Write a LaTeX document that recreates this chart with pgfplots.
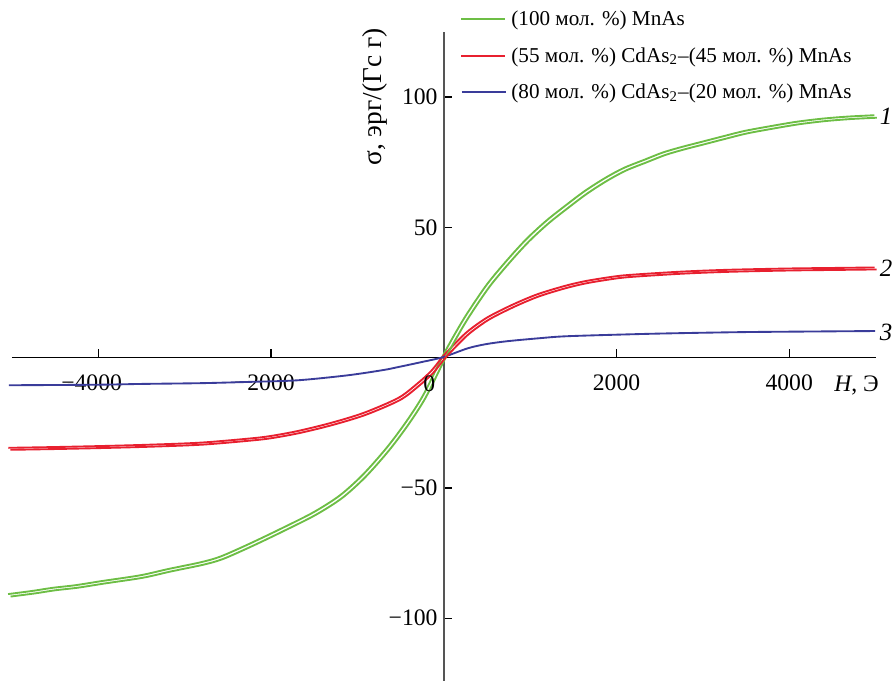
\documentclass[border=0pt]{standalone}
\usepackage{pgfplots}
\pgfplotsset{compat=1.18}
\usepackage{fontspec}
\setmainfont{Liberation Serif}
\definecolor{cgreen}{HTML}{6DBE45}
\definecolor{cred}{HTML}{E8202F}
\definecolor{cblue}{HTML}{3A3C9A}
\definecolor{axgray}{HTML}{555555}

\begin{document}
\begin{tikzpicture}
\begin{axis}[
  scale only axis, width=347.2pt, height=260.8pt,
  xmin=-5000, xmax=5000, ymin=-123.9, ymax=125,
  axis lines=middle,
  x axis line style={-, draw=black, line width=0.6pt},
  y axis line style={-, draw=axgray, line width=0.8pt},
  tick align=inside, major tick length=3.5pt,
  tick style={draw=black, line width=0.5pt},
  xtick={-4000,-2000,2000,4000},
  xticklabels={\llap{−}4000,\llap{−}2000,2000,4000},
  xticklabel style={yshift=-3.5pt},
  ytick={-100,-50,50,100},
  yticklabels={−100,−50,50,100},
  yticklabel style={xshift=1pt},
  ticklabel style={font=\fontsize{9.5}{11}\selectfont},
  clip=false,
  legend cell align=left,
  legend style={draw=none, fill=none, at={(rel axis cs:0.5185,1.04)}, anchor=north west,
    font=\fontsize{8.5}{10}\selectfont, row sep=3.1pt, inner sep=0pt},
  legend image code/.code={\draw[#1, line width=0.8pt] (0pt,0pt) -- (15pt,0pt);
    \path (0pt,0pt) -- (17.5pt,0pt);},
  every axis plot/.append style={smooth, line width=0.75pt},
]
% 1: MnAs
\addplot[cgreen, xshift=-0.5pt, yshift=0.5pt] coordinates {
(-5030,-91.2)(-4750,-90)(-4514,-88.8)(-4250,-87.8)(-3943,-86.2)(-3500,-84)(-3177,-81.6)
(-2800,-79)(-2571,-76.8)(-2229,-71.8)(-1851,-65.8)(-1493,-59.8)(-1187,-53.3)(-917,-45.2)
(-645,-35)(-415,-24.8)(-221,-14.7)(0,0)(150,9)(286,16.5)(514,27.6)(750,37)(971,45)(1200,52)(1429,58)
(1650,63.5)(1886,68.5)(2100,72.3)(2343,75.5)(2550,78.2)(2766,80.3)(3000,82.3)(3257,84.5)
(3500,86.5)(3829,88.5)(4100,90)(4400,91.2)(4700,92)(5000,92.5)};
\addlegendentry{(100 мол. \%) MnAs}
% 2: 55 CdAs2 - 45 MnAs
\addplot[cred, xshift=-0.4pt, yshift=0.4pt] coordinates {
(-5030,-35)(-4500,-34.7)(-3943,-34.3)(-3400,-33.8)(-2800,-33)(-2229,-31.4)(-2000,-30.5)
(-1686,-28.6)(-1302,-25.5)(-917,-21.6)(-518,-15.9)(-300,-10.5)(-134,-5.5)(0,0)
(171,6)(300,10)(514,15)(800,19.8)(1086,23.8)(1400,27)(1657,29)(2000,30.8)(2229,31.5)
(2766,32.6)(3300,33.3)(4000,33.8)(4500,34)(5000,34.2)};
\addlegendentry{(55 мол. \%) CdAs\textsubscript{2}–(45 мол. \%) MnAs}
% 3: 80 CdAs2 - 20 MnAs
\addplot[cblue, xshift=-0.2pt, yshift=0.2pt] coordinates {
(-5030,-10.8)(-4000,-10.6)(-3500,-10.3)(-2800,-10)(-2229,-9.5)(-1686,-8.9)(-1110,-7)
(-700,-5)(-518,-3.8)(-250,-1.9)(0,0)(286,3.4)(500,5)(743,6.1)(1100,7.2)(1429,8)
(2229,8.8)(2766,9.2)(3500,9.6)(4200,9.8)(5000,10)};
\addlegendentry{(80 мол. \%) CdAs\textsubscript{2}–(20 мол. \%) MnAs}
% second branches of the loops
\addplot[cgreen, xshift=0.5pt, yshift=-0.5pt, forget plot] coordinates {
(-5030,-91.2)(-4750,-90)(-4514,-88.8)(-4250,-87.8)(-3943,-86.2)(-3500,-84)(-3177,-81.6)
(-2800,-79)(-2571,-76.8)(-2229,-71.8)(-1851,-65.8)(-1493,-59.8)(-1187,-53.3)(-917,-45.2)
(-645,-35)(-415,-24.8)(-221,-14.7)(0,0)(150,9)(286,16.5)(514,27.6)(750,37)(971,45)(1200,52)(1429,58)
(1650,63.5)(1886,68.5)(2100,72.3)(2343,75.5)(2550,78.2)(2766,80.3)(3000,82.3)(3257,84.5)
(3500,86.5)(3829,88.5)(4100,90)(4400,91.2)(4700,92)(5000,92.5)};
\addplot[cred, xshift=0.4pt, yshift=-0.4pt, forget plot] coordinates {
(-5030,-35)(-4500,-34.7)(-3943,-34.3)(-3400,-33.8)(-2800,-33)(-2229,-31.4)(-2000,-30.5)
(-1686,-28.6)(-1302,-25.5)(-917,-21.6)(-518,-15.9)(-300,-10.5)(-134,-5.5)(0,0)
(171,6)(300,10)(514,15)(800,19.8)(1086,23.8)(1400,27)(1657,29)(2000,30.8)(2229,31.5)
(2766,32.6)(3300,33.3)(4000,33.8)(4500,34)(5000,34.2)};

% labels
\node[anchor=north east, inner sep=0pt, font=\fontsize{9.5}{11}\selectfont] at (axis cs:0,0) [xshift=-3.2pt, yshift=-7pt] {0};
\node[anchor=north west, inner sep=0pt, font=\fontsize{9.5}{11}\selectfont] at (axis cs:4516,0) [yshift=-7pt] {\textit{H}, Э};
\node[rotate=90, font=\fontsize{11}{13}\selectfont] at (axis cs:-800,100) {σ, эрг/(Гс г)};
\node[anchor=west, inner sep=1.5pt, font=\fontsize{10}{12}\selectfont\itshape] at (axis cs:5000,92.5) {1};
\node[anchor=west, inner sep=1.5pt, font=\fontsize{10}{12}\selectfont\itshape] at (axis cs:5000,34.2) {2};
\node[anchor=west, inner sep=1.5pt, font=\fontsize{10}{12}\selectfont\itshape] at (axis cs:5000,9.5) {3};
\path (rel axis cs:-0.0138,1.049) (rel axis cs:-0.0138,0);
\end{axis}
\end{tikzpicture}
\end{document}
